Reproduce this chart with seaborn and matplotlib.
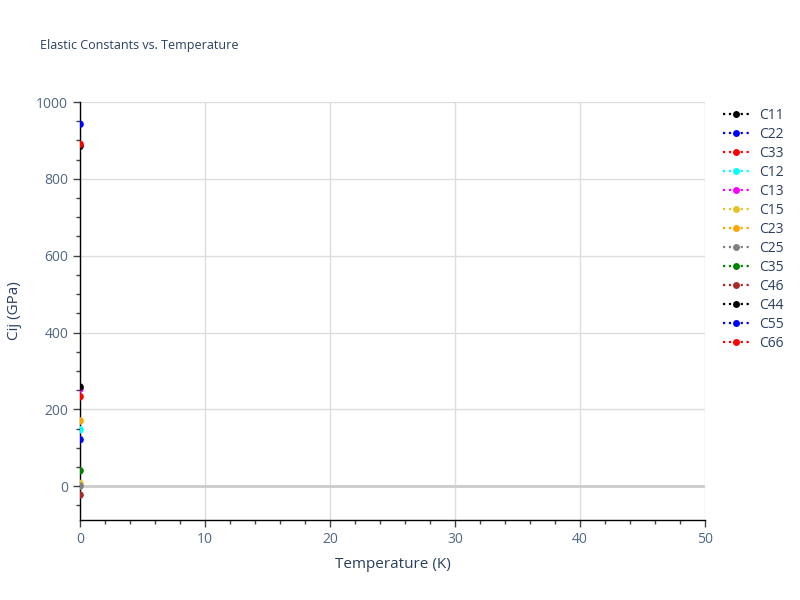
import matplotlib
matplotlib.use("Agg")
import matplotlib.pyplot as plt
from matplotlib.ticker import MultipleLocator
from matplotlib.lines import Line2D
import seaborn as sns
import pandas as pd

# Data
names = ["C11", "C22", "C33", "C12", "C13", "C15", "C23", "C25", "C35", "C46", "C44", "C55", "C66"]
temperature = [0, 0, 0, 0, 0, 0, 0, 0, 0, 0, 0, 0, 0]
values = [885, 942, 890, 147, 253, 7, 170, 0, 40, -23, 258, 121, 233]
colors = ["black", "blue", "red", "cyan", "magenta", "#e6c229", "orange", "gray", "green", "brown", "black", "blue", "red"]

df = pd.DataFrame({"Temperature": temperature, "Cij": values, "name": names})

sns.set_theme(style="white")
plt.rcParams["font.family"] = ["Open Sans", "DejaVu Sans"]
text_color = "#2a3f5f"
tick_color = "#506784"

fig = plt.figure(figsize=(8, 6), dpi=100)
ax = fig.add_axes([0.1, 0.1333, 0.78125, 0.6967])

ax.grid(True, color="#dddddd", linewidth=1)
ax.set_axisbelow(True)
ax.axhline(0, color="#cccccc", linewidth=2, zorder=1)

palette = dict(zip(names, colors))
sns.scatterplot(data=df, x="Temperature", y="Cij", hue="name", palette=palette,
                hue_order=names, s=30, edgecolor="none", legend=False, ax=ax,
                zorder=5)

ax.set_xlim(0, 50)
ax.set_ylim(-88, 1000)
ax.xaxis.set_major_locator(MultipleLocator(10))
ax.xaxis.set_minor_locator(MultipleLocator(2))
ax.yaxis.set_major_locator(MultipleLocator(200))
ax.yaxis.set_minor_locator(MultipleLocator(50))
ax.tick_params(axis="both", which="major", direction="out", length=5, width=1,
               color="#444444", labelcolor=tick_color, labelsize=10, bottom=True, left=True)
ax.tick_params(axis="both", which="minor", direction="out", length=3, width=1,
               color="#444444", bottom=True, left=True)

for side in ["top", "right"]:
    ax.spines[side].set_visible(False)
for side in ["left", "bottom"]:
    ax.spines[side].set_color("black")
    ax.spines[side].set_linewidth(1)

ax.set_xlabel("Temperature (K)", color=text_color, fontsize=11, labelpad=7)
ax.set_ylabel("Cij (GPa)", color=text_color, fontsize=11, labelpad=10)

fig.text(0.05, 0.924, "Elastic Constants vs. Temperature", color=text_color, fontsize=9, va="center")

handles = [Line2D([0], [0], color=c, linestyle=":", linewidth=1.6, marker="o",
                  markersize=5, markeredgewidth=0) for c in colors]
leg = ax.legend(handles, names, loc="upper left", bbox_to_anchor=(1.02, 1.0),
                frameon=False, fontsize=10, handlelength=1.9, handletextpad=0.7,
                labelspacing=0.29, borderaxespad=0.0)
for t in leg.get_texts():
    t.set_color(text_color)

fig.savefig("out.png", dpi=100)
